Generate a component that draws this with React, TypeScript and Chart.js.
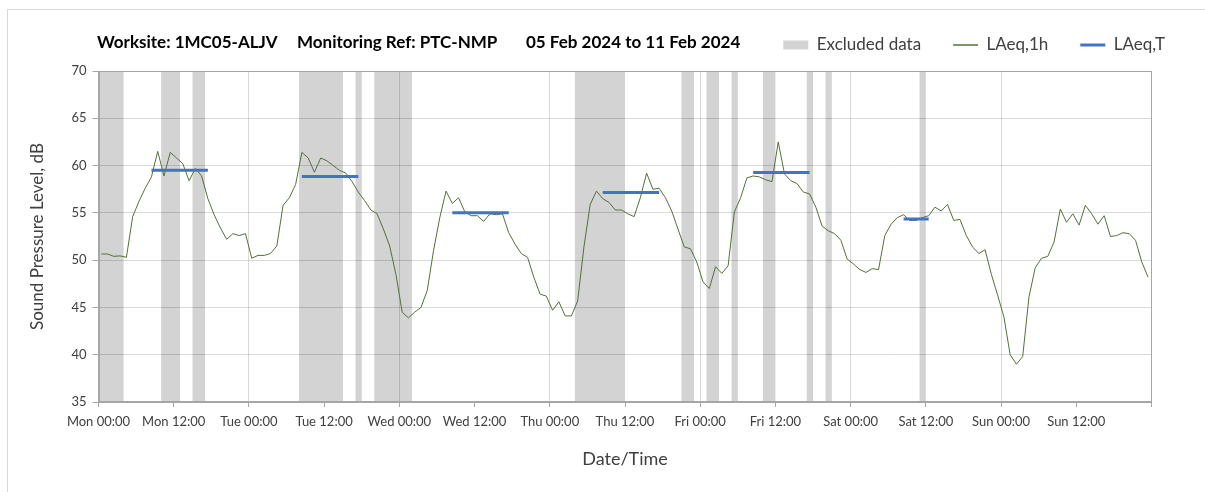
import React, { useEffect, useRef } from 'react';
import { Chart, registerables } from 'chart.js';

Chart.register(...registerables);

// ---------------- data ----------------
const TITLE_PARTS = ['Worksite: 1MC05-ALJV', 'Monitoring Ref: PTC-NMP', '05 Feb 2024 to 11 Feb 2024'];

const X_TICK_LABELS = [
  'Mon 00:00', 'Mon 12:00', 'Tue 00:00', 'Tue 12:00', 'Wed 00:00', 'Wed 12:00', 'Thu 00:00',
  'Thu 12:00', 'Fri 00:00', 'Fri 12:00', 'Sat 00:00', 'Sat 12:00', 'Sun 00:00', 'Sun 12:00',
];

const HOURS_TOTAL = 168;
const POINT_OFFSET = 0.45; // hourly values plotted inside their hour

// LAeq,1h hourly values (dB), Mon 00:00 .. Sun 23:00
const LAEQ_1H = [
  50.65, 50.65, 50.4, 50.45, 50.3, 54.6, 56.2, 57.6, 58.8, 61.5, 58.9, 61.4, 60.8, 60.2, 58.4, 59.7, 58.9, 56.5, 54.8, 53.4, 52.2, 52.8, 52.6, 52.8,
  50.2, 50.5, 50.5, 50.7, 51.5, 55.8, 56.6, 58.0, 61.4, 60.8, 59.3, 60.8, 60.5, 60.0, 59.5, 59.2, 58.3, 57.2, 56.3, 55.3, 54.9, 53.3, 51.5, 48.5,
  44.5, 43.9, 44.5, 45.0, 46.8, 51.0, 54.5, 57.3, 56.0, 56.6, 55.1, 54.7, 54.7, 54.1, 54.9, 54.8, 54.9, 52.9, 51.7, 50.7, 50.3, 48.2, 46.4, 46.2,
  44.7, 45.6, 44.1, 44.1, 45.7, 51.4, 55.9, 57.3, 56.5, 56.1, 55.3, 55.3, 54.9, 54.6, 56.6, 59.2, 57.5, 57.6, 56.6, 55.2, 53.3, 51.4, 51.2, 49.8,
  47.7, 47.0, 49.3, 48.6, 49.4, 55.1, 56.6, 58.7, 58.9, 58.8, 58.5, 58.3, 62.5, 59.1, 58.4, 58.1, 57.2, 57.0, 55.6, 53.6, 53.1, 52.8, 52.1, 50.1,
  49.6, 49.0, 48.7, 49.1, 49.0, 52.6, 53.8, 54.5, 54.8, 54.2, 54.2, 54.5, 54.7, 55.6, 55.2, 55.9, 54.2, 54.3, 52.6, 51.4, 50.7, 51.1, 48.5, 46.3,
  44.0, 40.0, 39.0, 39.8, 46.1, 49.2, 50.2, 50.4, 51.9, 55.4, 54.0, 54.9, 53.7, 55.8, 54.9, 53.8, 54.7, 52.5, 52.6, 52.9, 52.8, 52.1, 49.8, 48.2,
];

// LAeq,T daytime periods (hour index of first and last hourly value) and levels
const LAEQ_T_START = [8, 32, 56, 80, 104, 128];
const LAEQ_T_END = [17, 41, 65, 89, 113, 132];
const LAEQ_T_VALUE = [59.5, 58.85, 55.0, 57.15, 59.27, 54.35];

// Excluded data periods (hours from Mon 00:00)
const EXCLUDED_START = [0, 10, 15, 32, 41, 44, 76, 93, 97, 101, 106, 113, 116, 131];
const EXCLUDED_END = [4, 13, 17, 39, 42, 50, 84, 95, 99, 102, 108, 114, 117, 132];

const Y_MIN = 35;
const Y_MAX = 70;
const Y_STEP = 5;
const X_STEP = 12;
const GRID_EVERY = 24;

const LEGEND_LABELS = ['Excluded data', 'LAeq,1h', 'LAeq,T'];

// ---------------- styles ----------------
const FONT = 'Lato, "Open Sans", "DejaVu Sans", sans-serif';
const C_BAND = '#d3d3d3';
const C_GREEN = '#55703a';
const C_BLUE = '#4472c4';
const C_AXIS = '#a6a6a6';
const C_TEXT = '#404040';

const bandsPlugin = {
  id: 'excludedBands',
  beforeDraw(chart: any) {
    const { ctx, chartArea, scales } = chart;
    const xs = scales.x;
    ctx.save();
    ctx.beginPath();
    ctx.rect(chartArea.left, chartArea.top, chartArea.right - chartArea.left, chartArea.bottom - chartArea.top);
    ctx.clip();
    ctx.fillStyle = C_BAND;
    EXCLUDED_START.forEach((s, i) => {
      const x0 = xs.getPixelForValue(s);
      const x1 = xs.getPixelForValue(EXCLUDED_END[i]);
      ctx.fillRect(x0, chartArea.top, x1 - x0, chartArea.bottom - chartArea.top);
    });
    ctx.restore();
  },
  beforeDatasetsDraw(chart: any) {
    const { ctx, chartArea } = chart;
    ctx.save();
    ctx.strokeStyle = C_AXIS;
    ctx.lineWidth = 1;
    const l = Math.round(chartArea.left) + 0.5;
    const r = Math.round(chartArea.right) - 0.5;
    const t = Math.round(chartArea.top) + 0.5;
    const b = Math.round(chartArea.bottom) - 0.5;
    ctx.strokeRect(l, t, r - l, b - t);
    ctx.restore();
  },
  afterDraw(chart: any) {
    const { ctx } = chart;
    ctx.save();
    ctx.font = `bold 17px ${FONT}`;
    ctx.fillStyle = '#000000';
    ctx.textBaseline = 'middle';
    const xs = [97, 297, 526];
    TITLE_PARTS.forEach((t, i) => ctx.fillText(t, xs[i], 43));
    ctx.restore();
  },
};

export default function App() {
  const ref = useRef<HTMLCanvasElement | null>(null);

  useEffect(() => {
    document.body.style.margin = '0';
    document.body.style.overflow = 'hidden';
    const canvas = ref.current;
    if (!canvas) return;

    const lineData = LAEQ_1H.map((v, i) => ({ x: i + POINT_OFFSET, y: v }));
    const tData: { x: number; y: number | null }[] = [];
    LAEQ_T_START.forEach((s, i) => {
      tData.push({ x: s + POINT_OFFSET, y: LAEQ_T_VALUE[i] });
      tData.push({ x: LAEQ_T_END[i] + POINT_OFFSET, y: LAEQ_T_VALUE[i] });
      tData.push({ x: LAEQ_T_END[i] + POINT_OFFSET, y: null });
    });

    const chart = new Chart(canvas, {
      type: 'line',
      data: {
        datasets: [
          {
            label: LEGEND_LABELS[1],
            data: lineData,
            borderColor: C_GREEN,
            borderWidth: 1,
            pointRadius: 0,
            tension: 0,
            order: 1,
          },
          {
            label: LEGEND_LABELS[2],
            data: tData as any,
            borderColor: C_BLUE,
            borderWidth: 3,
            pointRadius: 0,
            spanGaps: false,
            order: 0,
          },
        ],
      },
      plugins: [bandsPlugin],
      options: {
        responsive: false,
        animation: false,
        devicePixelRatio: 1,
        parsing: false as any,
        layout: { padding: { left: 20, right: 8, top: 4.5, bottom: 20 } },
        font: { family: FONT },
        plugins: {
          tooltip: { enabled: false },
          title: { display: false },
          legend: {
            display: true,
            position: 'top',
            align: 'end',
            labels: {
              usePointStyle: true,
              pointStyleWidth: 25,
              boxHeight: 9,
              padding: 32,
              color: C_TEXT,
              font: { family: FONT, size: 17 },
              generateLabels: () => [
                { text: LEGEND_LABELS[0], fillStyle: C_BAND, strokeStyle: C_BAND, lineWidth: 0, pointStyle: 'rect', hidden: false, fontColor: C_TEXT } as any,
                { text: LEGEND_LABELS[1], fillStyle: C_GREEN, strokeStyle: C_GREEN, lineWidth: 1.5, pointStyle: 'line', hidden: false, fontColor: C_TEXT } as any,
                { text: LEGEND_LABELS[2], fillStyle: C_BLUE, strokeStyle: C_BLUE, lineWidth: 3, pointStyle: 'line', hidden: false, fontColor: C_TEXT } as any,
              ],
            },
          },
        },
        scales: {
          x: {
            type: 'linear',
            position: 'bottom',
            min: 0,
            max: HOURS_TOTAL,
            afterFit: (s: any) => { s.height = 70; },
            ticks: {
              stepSize: X_STEP,
              autoSkip: false,
              maxRotation: 0,
              padding: 7,
              color: C_TEXT,
              font: { family: FONT, size: 13 },
              callback: (v: any) => X_TICK_LABELS[Math.round(Number(v) / X_STEP)] ?? '',
            },
            grid: {
              color: (c: any) => (c.tick && c.tick.value % GRID_EVERY === 0 ? 'rgba(0,0,0,0.15)' : 'rgba(0,0,0,0)'),
              tickColor: C_AXIS,
              tickLength: 5,
              drawTicks: true,
            },
            border: { color: C_AXIS },
            title: {
              display: true,
              text: 'Date/Time',
              color: C_TEXT,
              font: { family: FONT, size: 18 },
              padding: { top: 0, bottom: 2 },
            },
          },
          x2: {
            type: 'linear',
            position: 'top',
            display: true,
            afterFit: (s: any) => { s.height = 7.5; },
            ticks: { display: false },
            grid: { display: false, drawTicks: false },
            border: { display: false },
          },
          y: {
            type: 'linear',
            position: 'left',
            min: Y_MIN,
            max: Y_MAX,
            afterFit: (s: any) => { s.width = 78.5; },
            ticks: {
              stepSize: Y_STEP,
              padding: 6,
              color: C_TEXT,
              font: { family: FONT, size: 13 },
            },
            grid: {
              color: 'rgba(0,0,0,0.15)',
              tickColor: C_AXIS,
              tickLength: 6,
            },
            border: { color: C_AXIS },
            title: {
              display: true,
              text: 'Sound Pressure Level, dB',
              color: C_TEXT,
              font: { family: FONT, size: 17 },
              padding: { top: 7, bottom: 0 },
            },
          },
          y2: {
            type: 'linear',
            position: 'right',
            display: true,
            afterFit: (s: any) => { s.width = 45.5; },
            ticks: { display: false },
            grid: { display: false, drawTicks: false },
            border: { display: false },
          },
        },
      } as any,
    });

    return () => chart.destroy();
  }, []);

  return (
    <div style={{ position: 'relative', width: 1205, height: 492, background: '#ffffff', overflow: 'hidden' }}>
      <div
        style={{
          position: 'absolute', left: 7, top: 9, width: 1198, height: 483,
          borderLeft: '1px solid #d9d9d9', borderTop: '1px solid #d9d9d9', boxSizing: 'border-box',
        }}
      />
      <canvas ref={ref} width={1205} height={492} style={{ position: 'absolute', left: 0, top: 0, width: 1205, height: 492 }} />
    </div>
  );
}
